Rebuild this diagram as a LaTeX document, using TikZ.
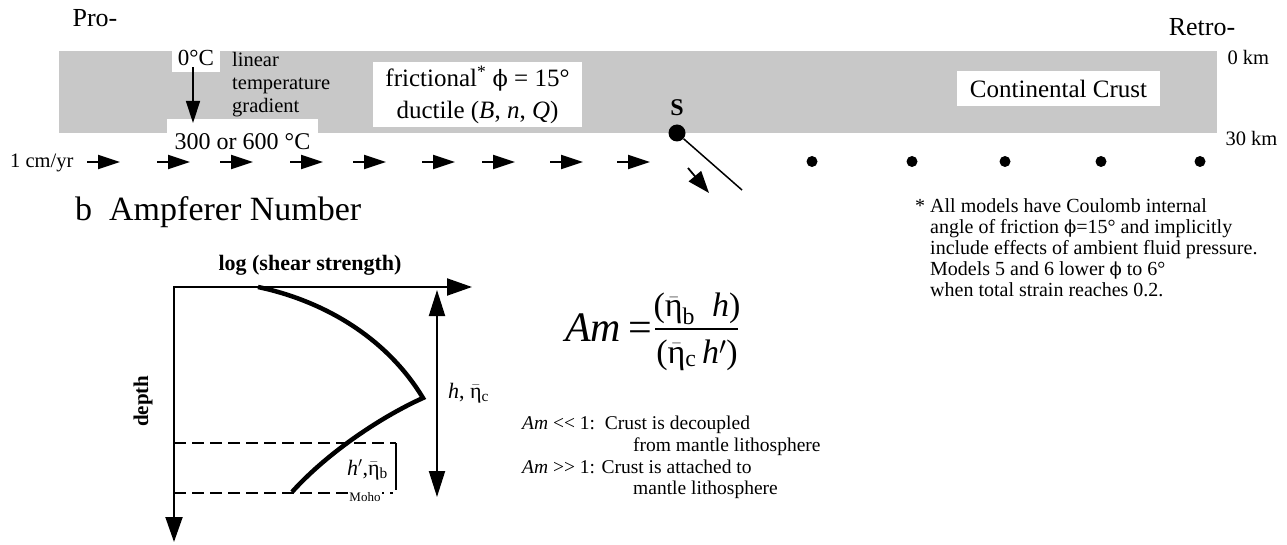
\documentclass[tikz,border=0pt]{standalone}
\usepackage[no-math]{fontspec}
\setmainfont{Liberation Serif}
\newfontfamily\phifont{DejaVu Serif}
\usepackage{amsmath}
\usetikzlibrary{arrows.meta,positioning,calc}
\definecolor{crustgray}{RGB}{200,200,200}
\newcommand{\fsz}[2]{\fontsize{#1}{#2}\selectfont}
\newcommand{\etab}{$\bar{\text{η}}$\textsubscript{b}}
\newcommand{\etac}{$\bar{\text{η}}$\textsubscript{c}}
\newcommand{\phiup}{{\phifont\scalebox{0.9}{ϕ}}}

\begin{document}
\begin{tikzpicture}[x=1pt, y=-1pt,
  lbl/.style={inner sep=0pt},
  whitebox/.style={fill=white, inner sep=0pt},
  flowarr/.style={-{Triangle[length=22pt,width=14pt]}, line width=1.8pt},
  thinarr/.style={-{Triangle[length=22pt,width=14pt]}, line width=1.4pt},
  axisarr/.style={{Triangle[length=25pt,width=17pt]}-{Triangle[length=25pt,width=17pt]}, line width=2pt},
  dblarr/.style={{Triangle[length=26pt,width=16pt]}-{Triangle[length=26pt,width=16pt]}, line width=2pt},
  moholine/.style={dash pattern=on 12pt off 6pt, line width=1.8pt},
  profile/.style={line width=4.5pt, line join=miter},
]
  \useasboundingbox (0,0) rectangle (1287,545);

  \node[lbl, font=\fsz{26}{26}] (pro) at (95,18) {Pro-};
  \node[lbl, font=\fsz{26}{26}] (retro) at (1202,27) {Retro-};
  \node[fill=crustgray, inner sep=0pt, minimum width=1158pt, minimum height=82pt, anchor=north west] (crust) at (59,51) {};
  \node[lbl, font=\fsz{20.5}{20.5}, right=10pt of crust.north east, yshift=-6pt] (top) {0 km};
  \node[lbl, font=\fsz{20.5}{20.5}, right=8pt of crust.south east, yshift=-5pt] (base) {30 km};

  \node[whitebox, font=\fsz{23}{23}, text height=15pt, text depth=6pt, minimum width=48pt] (t0) at (196,61.5) {0°C};
  \node[whitebox, font=\fsz{24}{24}, text height=27pt, text depth=0pt, minimum width=151pt, minimum height=34pt, anchor=north] (t300) at (242.5,119) {300 or 600 °C};
  \draw[thinarr] ($(t0.south)+(-3,-5)$) -- ($(t0.south |- t300.north)+(-3,4)$);
  \node[lbl, font=\fsz{20.5}{23}, align=left, anchor=west] (grad) at (232,85) {linear\\temperature\\gradient};
  \node[whitebox, font=\fsz{25}{32}, align=center, minimum width=209pt, minimum height=65pt] (fric) at (477.5,94.5) {frictional\textsuperscript{*} \phiup{} = 15°\\ductile (\textit{B}, \textit{n}, \textit{Q})};
  \node[whitebox, font=\fsz{25}{25}, minimum width=203pt, minimum height=35pt] (cc) at (1058.5,88.5) {Continental Crust};

  \node[lbl, font=\fsz{20.5}{20.5}, anchor=west] (rate) at (10,163) {1 cm/yr};
  \foreach \x in {87,157,220,290,353,422,482,550,617}
    \draw[flowarr] (\x,162) -- ++(33,0);
  \foreach \x in {812,912,1005,1101,1200}
    \fill (\x,161.5) circle (5.5pt);

  \node[circle, fill=black, minimum size=17pt, inner sep=0pt] (sdot) at (677,133) {};
  \node[lbl, font=\bfseries\fsz{24}{24}] (slbl) at (677,108) {S};
  \coordinate (sfault) at (742,190);
  \coordinate (stail) at (688,168);
  \coordinate (stip) at (709,193);
  \draw[line width=1.5pt] (sdot) -- (sfault);
  \draw[-{Triangle[length=22pt,width=16pt]}, line width=1.8pt] (stail) -- (stip);

  \node[lbl, font=\fsz{20}{21}, align=left, anchor=north west] (note) at (930,198) {\llap{*\ }All models have Coulomb internal\\angle of friction \phiup=15° and implicitly\\include effects of ambient fluid pressure.\\Models 5 and 6 lower \phiup{} to 6°\\when total strain reaches 0.2.};

  \node[lbl, font=\fsz{34}{34}, anchor=west] (title) at (75,212) {b\ \ Ampferer Number};

  \coordinate (origin) at (174,287);
  \coordinate (xaxis) at (472,287);
  \coordinate (yaxis) at (174,542);
  \draw[axisarr] (yaxis) -- (origin) -- (xaxis);
  \node[lbl, font=\bfseries\fsz{22}{22}] (xlbl) at (310,265) {log (shear strength)};
  \node[lbl, font=\bfseries\fsz{21}{21}, rotate=90] (ylbl) at (143,401) {depth};
  \draw[profile] (258,287) .. controls (320,300) and (385,335) .. (423,398) .. controls (385,415) and (330,450) .. (292,492);

  \coordinate (crustbot) at (174,443);
  \coordinate (crustbotr) at (396,443);
  \coordinate (bracketend) at (396,490);
  \coordinate (mohol) at (174,493);
  \coordinate (mohor) at (393,493);
  \draw[moholine] (crustbot) -- (crustbotr);
  \draw[line width=1.8pt] (crustbotr) -- (bracketend);
  \draw[moholine] (mohol) -- (mohor);
  \node[whitebox, inner sep=1pt, font=\fsz{13}{13}] (moho) at (365,497) {Moho};

  \coordinate (htop) at (437,290);
  \coordinate (hbot) at (437,497);
  \draw[dblarr] (htop) -- (hbot);
  \node[lbl, font=\fsz{22}{22}, anchor=west] (hlbl) at (448,393) {\textit{h}, \etac};
  \node[lbl, font=\fsz{22}{22}, anchor=east] (hplbl) at (388,470) {\textit{h}$'$,\etab};

  \node[lbl, font=\fsz{42}{42}, anchor=east] (amlhs) at (652,328) {\textit{Am}\,=};
  \node[lbl, font=\fsz{34}{34}] (amnum) at (697,309) {(\etab\ \ \textit{h})};
  \node[lbl, font=\fsz{34}{34}] (amden) at (697,355) {(\etac\,\textit{h}$'$)};
  \draw[line width=2pt] (655,329) -- (738,329);

  \node[lbl, font=\fsz{19.5}{21.7}, align=left, anchor=north west] (amnote) at (522,416) {\textit{Am} <\kern0pt< 1:\ \ Crust is decoupled\\\hspace*{111pt}from mantle lithosphere\\\textit{Am} >\kern0pt> 1: Crust is attached to\\\hspace*{111pt}mantle lithosphere};
\end{tikzpicture}
\end{document}
